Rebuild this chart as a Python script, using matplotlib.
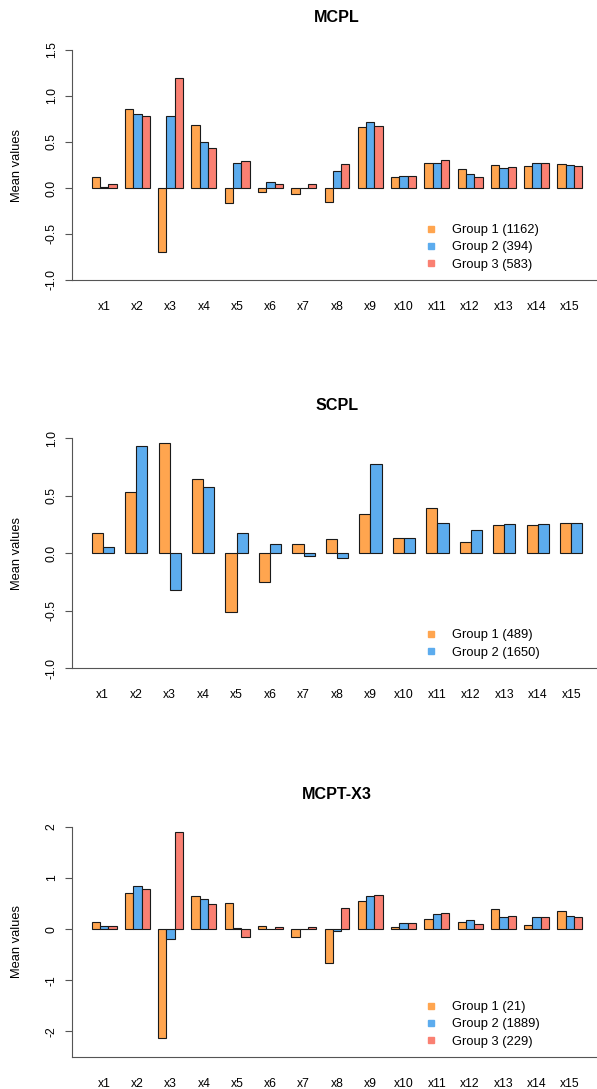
import matplotlib
matplotlib.use("Agg")
import matplotlib.pyplot as plt
from matplotlib.lines import Line2D

plt.rcParams["font.family"] = ["Liberation Sans", "DejaVu Sans"]

variables = [f"x{i}" for i in range(1, 16)]

# MCPL
mcpl_g1 = [0.12, 0.86, -0.70, 0.68, -0.16, -0.04, -0.06, -0.15, 0.66, 0.12, 0.27, 0.21, 0.25, 0.24, 0.26]
mcpl_g2 = [0.01, 0.80, 0.78, 0.50, 0.27, 0.07, 0.00, 0.19, 0.72, 0.13, 0.27, 0.15, 0.22, 0.27, 0.25]
mcpl_g3 = [0.04, 0.78, 1.20, 0.44, 0.29, 0.04, 0.04, 0.26, 0.67, 0.13, 0.30, 0.12, 0.23, 0.27, 0.24]
mcpl_labels = ["Group 1 (1162)", "Group 2 (394)", "Group 3 (583)"]

# SCPL
scpl_g1 = [0.17, 0.53, 0.96, 0.64, -0.51, -0.25, 0.08, 0.12, 0.34, 0.13, 0.39, 0.10, 0.24, 0.24, 0.26]
scpl_g2 = [0.05, 0.93, -0.32, 0.57, 0.17, 0.08, -0.03, -0.04, 0.77, 0.13, 0.26, 0.20, 0.25, 0.25, 0.26]
scpl_labels = ["Group 1 (489)", "Group 2 (1650)"]

# MCPT-X3
mcpt_g1 = [0.15, 0.70, -2.13, 0.65, 0.52, 0.06, -0.15, -0.67, 0.56, 0.05, 0.20, 0.14, 0.40, 0.09, 0.36]
mcpt_g2 = [0.07, 0.84, -0.20, 0.59, 0.02, 0.00, 0.00, -0.04, 0.65, 0.12, 0.29, 0.18, 0.24, 0.24, 0.26]
mcpt_g3 = [0.06, 0.78, 1.91, 0.49, -0.16, 0.05, 0.05, 0.42, 0.67, 0.12, 0.31, 0.11, 0.26, 0.24, 0.24]
mcpt_labels = ["Group 1 (21)", "Group 2 (1889)", "Group 3 (229)"]

colors = ["#FFA54F", "#5CACEE", "#FA8072"]

W, H = 597, 1089
fig = plt.figure(figsize=(W / 100, H / 100), dpi=100)


def draw_panel(top_px, bottom_px, title, series, labels, ylim, yticks, ytick_labels):
    n = len(series)
    ngroups = len(variables)
    # R barplot(beside=TRUE) layout: bar width 1, one empty unit before each group
    lo, hi = 1, ngroups * (n + 1)
    pad = 0.04 * (hi - lo)
    left_px, right_px = 72, 602

    ax = fig.add_axes([left_px / W, 1 - bottom_px / H,
                       (right_px - left_px) / W, (bottom_px - top_px) / H])
    for j, vals in enumerate(series):
        lefts = [1 + i * (n + 1) + j for i in range(ngroups)]
        ax.bar(lefts, vals, width=1, align="edge", color=colors[j],
               edgecolor="#1a1a1a", linewidth=0.8)

    for s in ["top", "right"]:
        ax.spines[s].set_visible(False)
    for s in ["left", "bottom"]:
        ax.spines[s].set_color("#555555")
        ax.spines[s].set_linewidth(0.8)

    ax.set_xlim(lo - pad, hi + pad)
    ax.set_ylim(*ylim)
    ax.set_xticks([1 + i * (n + 1) + n / 2 for i in range(ngroups)])
    ax.set_xticklabels(variables, fontsize=8.7)
    ax.tick_params(axis="x", length=0, pad=15)
    ax.set_yticks(yticks)
    ax.set_yticklabels(ytick_labels, fontsize=8.7, rotation=90, va="center")
    ax.tick_params(axis="y", length=5.3, width=0.8, color="#555555", pad=5)

    fig.text((left_px + right_px) / 2 / W, 1 - (top_px - 32.5) / H, title,
             ha="center", va="center", fontsize=11.6, fontweight="bold")
    fig.text(17.5 / W, 1 - (top_px + bottom_px) / 2 / H, "Mean values",
             rotation=90, ha="center", va="center", fontsize=9.3)

    handles = [Line2D([], [], marker="s", linestyle="none", color=colors[j],
                      markersize=4.2) for j in range(n)]
    centre_px = bottom_px - 17.3 * (n + 1) / 2 + 2
    ax.legend(handles, labels, loc="center left", frameon=False, fontsize=9.3,
              bbox_to_anchor=(424.5 / 100, (H - centre_px) / 100),
              bbox_transform=fig.dpi_scale_trans,
              borderpad=0, borderaxespad=0, handlelength=1.0,
              handletextpad=1.1, labelspacing=0.4)
    return ax


draw_panel(50, 280, "MCPL", [mcpl_g1, mcpl_g2, mcpl_g3], mcpl_labels, (-1.0, 1.5),
           [-1.0, -0.5, 0.0, 0.5, 1.0, 1.5], ["-1.0", "-0.5", "0.0", "0.5", "1.0", "1.5"])
draw_panel(438, 668, "SCPL", [scpl_g1, scpl_g2], scpl_labels, (-1.0, 1.0),
           [-1.0, -0.5, 0.0, 0.5, 1.0], ["-1.0", "-0.5", "0.0", "0.5", "1.0"])
draw_panel(827, 1057, "MCPT-X3", [mcpt_g1, mcpt_g2, mcpt_g3], mcpt_labels, (-2.5, 2.0),
           [-2, -1, 0, 1, 2], ["-2", "-1", "0", "1", "2"])

fig.savefig("out.png", dpi=100)
